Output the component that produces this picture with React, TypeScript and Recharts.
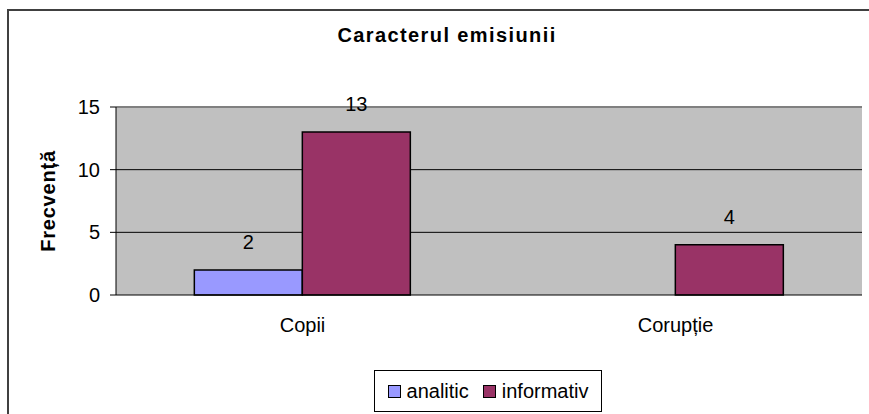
import React from 'react';
import {
  BarChart,
  Bar,
  XAxis,
  YAxis,
  CartesianGrid,
  Legend,
  LabelList,
  Label,
  ReferenceLine,
} from 'recharts';

// categories and series
const categories = ['Copii', 'Corupție'];
const analitic: (number | null)[] = [2, null];
const informativ: (number | null)[] = [13, 4];
const yTicks = [0, 5, 10, 15];

const seriesNames = { analitic: 'analitic', informativ: 'informativ' };
const colors = { analitic: '#9999FF', informativ: '#993366' };

const data = categories.map((name, i) => ({
  name,
  analitic: analitic[i],
  informativ: informativ[i],
}));

const FONT = '"Liberation Sans", Arial, sans-serif';

const LegendBox = () => (
  <div
    style={{
      border: '1px solid #000',
      background: '#fff',
      height: 42,
      display: 'flex',
      alignItems: 'center',
      justifyContent: 'center',
      fontFamily: FONT,
      fontSize: 20,
      color: '#000',
      boxSizing: 'border-box',
    }}
  >
    {(['analitic', 'informativ'] as const).map((k, i) => (
      <span key={k} style={{ display: 'flex', alignItems: 'center', marginLeft: i ? 14 : 0 }}>
        <span
          style={{
            width: 11,
            height: 11,
            background: colors[k],
            border: '1.5px solid #000',
            marginRight: 6,
            display: 'inline-block',
          }}
        />
        {seriesNames[k]}
      </span>
    ))}
  </div>
);

const hideEmpty = (v: any) => (v === null || v === undefined || v === 0 ? '' : v);

export default function App() {
  return (
    <div
      style={{
        position: 'absolute',
        left: 0,
        top: 0,
        width: 869,
        height: 414,
        overflow: 'hidden',
        background: '#fff',
        fontFamily: FONT,
      }}
    >
      <div
        style={{
          position: 'absolute',
          left: 7,
          top: 9,
          width: 900,
          height: 500,
          borderLeft: '2px solid #404040',
          borderTop: '2px solid #404040',
        }}
      />
      <div
        style={{
          position: 'absolute',
          top: 24,
          left: 0,
          width: 894,
          textAlign: 'center',
          fontSize: 20,
          letterSpacing: 1.4,
          fontWeight: 'bold',
          color: '#000',
        }}
      >
        Caracterul emisiunii
      </div>
      <div style={{ position: 'absolute', left: 0, top: 0 }}>
        <BarChart
          width={869}
          height={414}
          data={data}
          margin={{ top: 107, right: 7, left: 0, bottom: 2 }}
          barCategoryGap="21%"
          barGap={0}
        >
          <CartesianGrid
            vertical={false}
            fill="#C0C0C0"
            fillOpacity={1}
            stroke="#000"
            horizontalValues={[5, 10]}
          />
          <ReferenceLine y={15} stroke="#808080" strokeWidth={2} />
          <XAxis
            dataKey="name"
            height={75}
            tickLine={false}
            tickMargin={17}
            axisLine={{ stroke: '#000' }}
            tick={{ fill: '#000', fontSize: 20, fontFamily: FONT }}
          />
          <YAxis
            width={116}
            domain={[0, 15]}
            ticks={yTicks}
            tickSize={6}
            tickMargin={10}
            interval={0}
            axisLine={{ stroke: '#000' }}
            tickLine={{ stroke: '#000' }}
            tick={{ fill: '#000', fontSize: 20, fontFamily: FONT }}
          >
            <Label
              value="Frecvență"
              position="center"
              angle={-90}
              dx={-10}
              style={{ fontWeight: 'bold', fontSize: 20, fill: '#000', fontFamily: FONT, letterSpacing: 0.8 }}
            />
          </YAxis>
          <YAxis
            yAxisId="edge"
            orientation="right"
            width={0}
            domain={[0, 15]}
            tick={false}
            tickLine={false}
            axisLine={{ stroke: '#808080', strokeWidth: 2 }}
          />
          <Legend
            verticalAlign="bottom"
            content={<LegendBox />}
            wrapperStyle={{ left: 374, width: 228, bottom: 2, height: 42 }}
          />
          <Bar dataKey="analitic" fill={colors.analitic} stroke="#000" strokeWidth={1.5} isAnimationActive={false}>
            <LabelList
              dataKey="analitic"
              position="top"
              offset={21}
              formatter={hideEmpty}
              style={{ fill: '#000', fontSize: 20, fontFamily: FONT }}
            />
          </Bar>
          <Bar dataKey="informativ" fill={colors.informativ} stroke="#000" strokeWidth={1.5} isAnimationActive={false}>
            <LabelList
              dataKey="informativ"
              position="top"
              offset={21}
              formatter={hideEmpty}
              style={{ fill: '#000', fontSize: 20, fontFamily: FONT }}
            />
          </Bar>
        </BarChart>
      </div>
    </div>
  );
}
